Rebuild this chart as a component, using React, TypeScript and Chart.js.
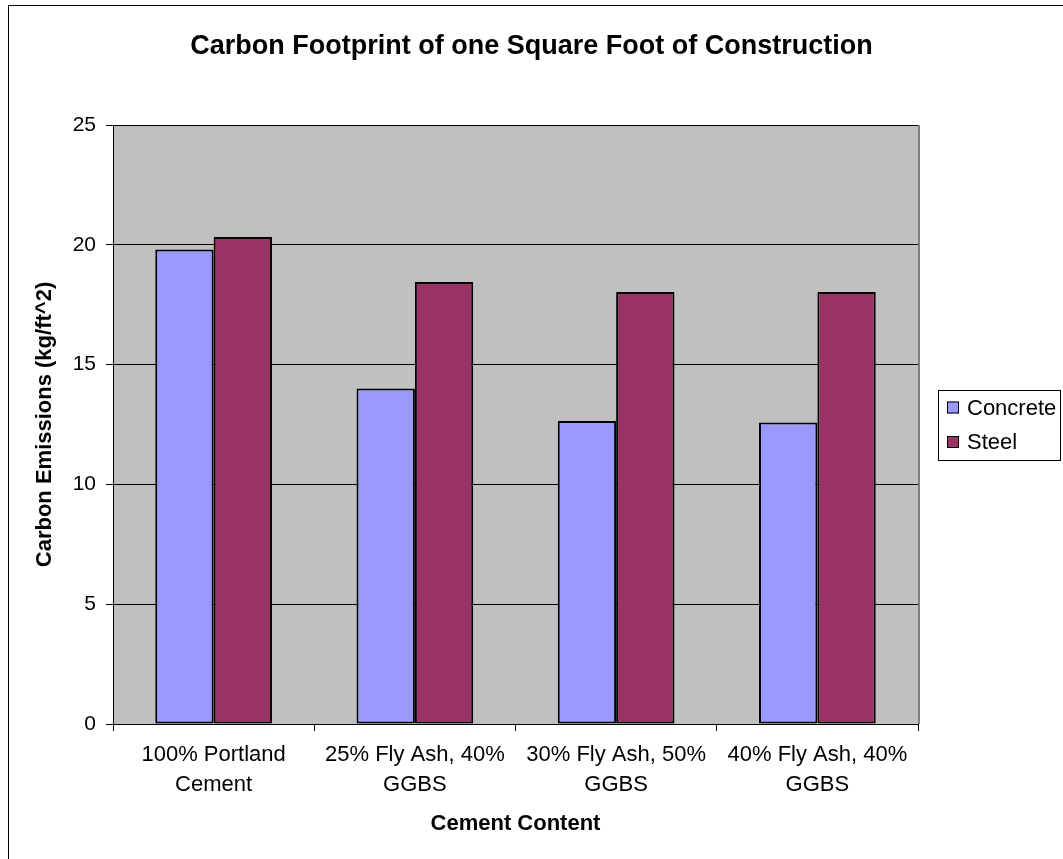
import React, { useEffect, useRef } from "react";
import { Chart, registerables } from "chart.js";

Chart.register(...registerables);

const categories: string[][] = [
  ["100% Portland", "Cement"],
  ["25% Fly Ash, 40%", "GGBS"],
  ["30% Fly Ash, 50%", "GGBS"],
  ["40% Fly Ash, 40%", "GGBS"],
];
const concrete = [19.8, 14.0, 12.65, 12.58];
const steel = [20.33, 18.45, 18.03, 18.03];
const yTicks = [0, 5, 10, 15, 20, 25];
const seriesNames = ["Concrete", "Steel"];
const seriesColors = ["#9999FF", "#993366"];
const chartTitle = "Carbon Footprint of one Square Foot of Construction";
const yTitle = "Carbon Emissions (kg/ft^2)";
const xTitle = "Cement Content";

const FONT = "'Liberation Sans', Arial, sans-serif";

const bgPlugin = {
  id: "bgPlugin",
  beforeDraw(chart: any) {
    const { ctx, chartArea: a } = chart;
    ctx.save();
    ctx.fillStyle = "#ffffff";
    ctx.fillRect(0, 0, chart.width, chart.height);
    ctx.fillStyle = "#000000";
    ctx.fillRect(8, 5, 1, chart.height - 5);
    ctx.fillRect(8, 5, chart.width - 8, 1);
    ctx.fillStyle = "#C0C0C0";
    ctx.fillRect(a.left, a.top, a.right - a.left, a.bottom - a.top);
    ctx.fillStyle = "#808080";
    ctx.fillRect(a.right, a.top, 2, a.bottom - a.top);
    ctx.restore();
  },
};

const titlePlugin = {
  id: "centerTitle",
  afterDraw(chart: any) {
    const { ctx } = chart;
    ctx.save();
    ctx.font = `bold 27px ${FONT}`;
    ctx.fillStyle = "#000";
    ctx.textAlign = "center";
    ctx.textBaseline = "middle";
    ctx.fillText(chartTitle, chart.width / 2, 47);
    ctx.restore();
  },
};

const legendPlugin = {
  id: "boxLegend",
  afterDraw(chart: any) {
    const { ctx } = chart;
    const boxL = 938, boxT = 390, boxW = 122, boxH = 70;
    ctx.save();
    ctx.fillStyle = "#ffffff";
    ctx.fillRect(boxL, boxT, boxW, boxH);
    ctx.strokeStyle = "#000000";
    ctx.lineWidth = 1;
    ctx.strokeRect(boxL + 0.5, boxT + 0.5, boxW, boxH);
    ctx.font = `22px ${FONT}`;
    ctx.textBaseline = "middle";
    ctx.textAlign = "left";
    chart.data.datasets.forEach((ds: any, i: number) => {
      const cy = boxT + 17.5 + i * 34.5;
      ctx.fillStyle = ds.backgroundColor;
      ctx.fillRect(947, cy - 6, 12, 12);
      ctx.strokeStyle = "#000";
      ctx.strokeRect(947.5, cy - 5.5, 11, 11);
      ctx.fillStyle = "#000";
      ctx.fillText(ds.label, 967, cy + 1);
    });
    ctx.restore();
  },
};

export default function App() {
  const ref = useRef<HTMLCanvasElement | null>(null);

  useEffect(() => {
    if (!ref.current) return;
    const chart = new Chart(ref.current, {
      type: "bar",
      data: {
        labels: categories,
        datasets: [
          {
            label: seriesNames[0],
            data: concrete,
            backgroundColor: seriesColors[0],
            borderColor: "#000000",
            borderWidth: 2,
            borderSkipped: false,
            barPercentage: 1,
            categoryPercentage: 0.58,
          },
          {
            label: seriesNames[1],
            data: steel,
            backgroundColor: seriesColors[1],
            borderColor: "#000000",
            borderWidth: 2,
            borderSkipped: false,
            barPercentage: 1,
            categoryPercentage: 0.58,
          },
        ],
      },
      options: {
        responsive: false,
        animation: false,
        devicePixelRatio: 1,
        layout: { padding: { left: 0, right: 145, top: 125, bottom: 0 } },
        plugins: {
          legend: { display: false },
          tooltip: { enabled: false },
          title: { display: false },
        },
        scales: {
          x: {
            offset: true,
            grid: {
              offset: true,
              drawOnChartArea: false,
              drawTicks: true,
              tickLength: 7,
              color: "#000",
            },
            border: { display: true, color: "#000", width: 1 },
            ticks: {
              color: "#000",
              maxRotation: 0,
              autoSkip: false,
              padding: 9,
              font: { family: FONT, size: 22, lineHeight: 1.36 },
            },
            title: {
              display: true,
              text: xTitle,
              color: "#000",
              font: { family: FONT, size: 22, weight: "bold", lineHeight: 1.2 },
              padding: { top: 0, bottom: 22 },
            },
            afterFit(scale: any) {
              scale.height = 135;
            },
          },
          y: {
            min: 0,
            max: 25,
            afterBuildTicks(scale: any) {
              scale.ticks = yTicks.map((v) => ({ value: v }));
            },
            grid: {
              drawTicks: true,
              tickLength: 7,
              color: "#000",
            },
            border: { display: true, color: "#000", width: 1 },
            ticks: {
              color: "#000",
              padding: 10,
              font: { family: FONT, size: 21 },
            },
            title: {
              display: true,
              text: yTitle,
              color: "#000",
              font: { family: FONT, size: 22, weight: "bold", lineHeight: 1.2 },
              padding: { top: 32, bottom: 0 },
            },
            afterFit(scale: any) {
              scale.width = 113;
            },
          },
        },
      },
      plugins: [bgPlugin, titlePlugin, legendPlugin],
    });
    return () => chart.destroy();
  }, []);

  return (
    <div style={{ position: "absolute", left: 0, top: 0, width: 1063, height: 859 }}>
      <canvas ref={ref} width={1063} height={859} style={{ display: "block" }} />
    </div>
  );
}
